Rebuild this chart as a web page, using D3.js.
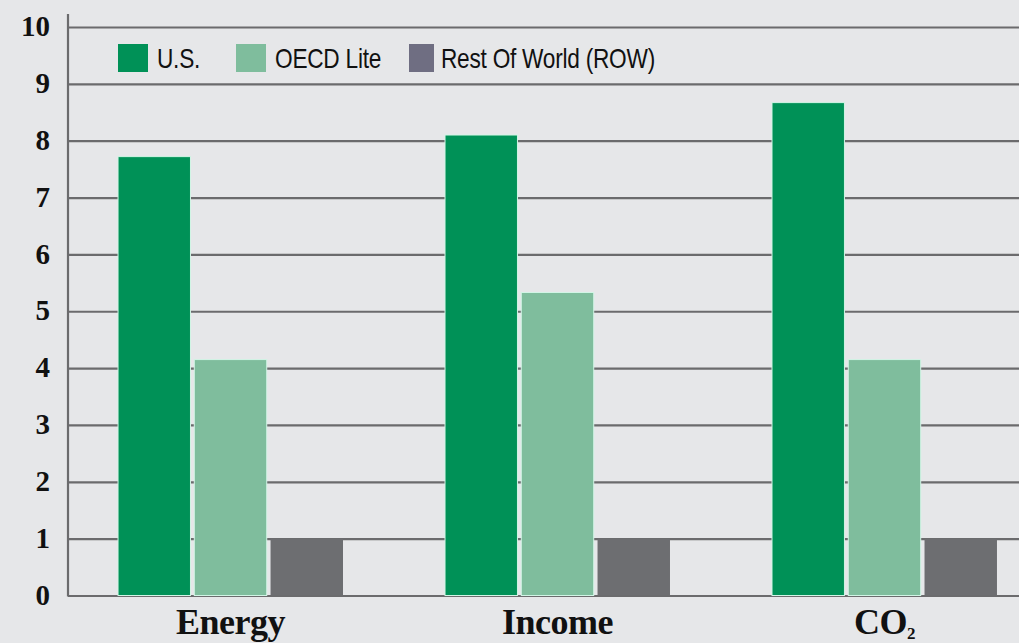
<!DOCTYPE html>
<html><head><meta charset="utf-8">
<script src="https://cdn.jsdelivr.net/npm/d3@7"></script>
<style>html,body{margin:0;padding:0;background:#e6e7e9;}</style>
</head><body>
<svg id="c" width="1019" height="643"></svg>
<script>
const categories = ["Energy", "Income", "CO2"];
const seriesNames = ["U.S.", "OECD Lite", "Rest Of World (ROW)"];
const usValues = [7.72, 8.1, 8.67];
const oecdValues = [4.15, 5.33, 4.15];
const rowValues = [1.0, 1.0, 1.0];
const yTicks = [0,1,2,3,4,5,6,7,8,9,10];
const colors = ["#009157", "#7fbd9d", "#6d6e71"];
const legendColors = ["#009157", "#7fbd9d", "#6f6e82"];

const seriesValues = [usValues, oecdValues, rowValues];
const data = categories.map((c, i) => ({cat: c, vals: seriesValues.map((s, j) => ({key: seriesNames[j], idx: j, v: s[i]}))}));

const svg = d3.select("#c");
svg.append("rect").attr("width",1019).attr("height",643).attr("fill","#e6e7e9");

const y = d3.scaleLinear().domain([0,10]).range([595.5, 27]);
const x0 = d3.scaleBand().domain(categories).range([68, 1047]).paddingInner(0.312).paddingOuter(0.153);
const x1 = d3.scaleBand().domain(seriesNames).range([0, x0.bandwidth()]).paddingInner(0.05);

// gridlines
const grid = svg.append("g").attr("transform","translate(68,0)")
  .call(d3.axisLeft(y).tickValues(yTicks).tickSize(-960).tickFormat(""));
grid.select(".domain").remove();
grid.selectAll("line").attr("stroke","#6b6b6d").attr("stroke-width",2.2);

// y labels
const yl = svg.append("g").attr("transform","translate(68,0)")
  .call(d3.axisLeft(y).tickValues(yTicks).tickSize(0).tickPadding(18));
yl.select(".domain").remove();
yl.selectAll("text").attr("font-family","Liberation Serif, serif").attr("font-weight","bold")
  .attr("font-size",29).attr("fill","#111").attr("dy","0.3em");

// y axis line
svg.append("line").attr("x1",68).attr("x2",68).attr("y1",14).attr("y2",596.5)
  .attr("stroke","#6b6b6d").attr("stroke-width",2.2);

// bars
const groups = svg.append("g").selectAll("g").data(data).join("g")
  .attr("transform", d => `translate(${x0(d.cat)},0)`);
groups.selectAll("rect").data(d => d.vals).join("rect")
  .attr("x", d => x1(d.key))
  .attr("y", d => y(d.v))
  .attr("width", x1.bandwidth())
  .attr("height", d => y(0) - y(d.v))
  .attr("fill", d => colors[d.idx])
  .attr("stroke", d => d.idx < 2 ? "#d2f5e6" : "none")
  .attr("stroke-width", 1);

// x labels
const xa = svg.append("g").attr("transform","translate(0,597)")
  .call(d3.axisBottom(x0).tickSize(0).tickFormat(""));
xa.select(".domain").remove();
xa.selectAll(".tick").each(function(d){
  const t = d3.select(this).append("text")
    .attr("y", 37).attr("text-anchor","middle")
    .attr("font-family","Liberation Serif, serif").attr("font-weight","bold")
    .attr("font-size",36).attr("fill","#111").attr("letter-spacing",-0.5);
  if (d === "CO2") {
    t.append("tspan").text("CO");
    t.append("tspan").text("2").attr("font-size",17).attr("dy",5);
  } else t.text(d);
});

// legend
const legX = [118, 236, 409];
const leg = svg.append("g").selectAll("g").data(seriesNames).join("g")
  .attr("transform",(d,i)=>`translate(${legX[i]},44)`);
leg.append("rect").attr("width",(d,i)=> i<2?30:25).attr("height",28)
  .attr("fill",(d,i)=> legendColors[i]);
leg.append("text")
  .attr("transform",(d,i)=>`translate(${i<2?39:32},24) scale(0.84,1)`)
  .attr("font-family","Liberation Sans, sans-serif")
  .attr("font-size",27).attr("fill","#111").attr("letter-spacing",-0.3).text(d=>d);
</script>
</body></html>
